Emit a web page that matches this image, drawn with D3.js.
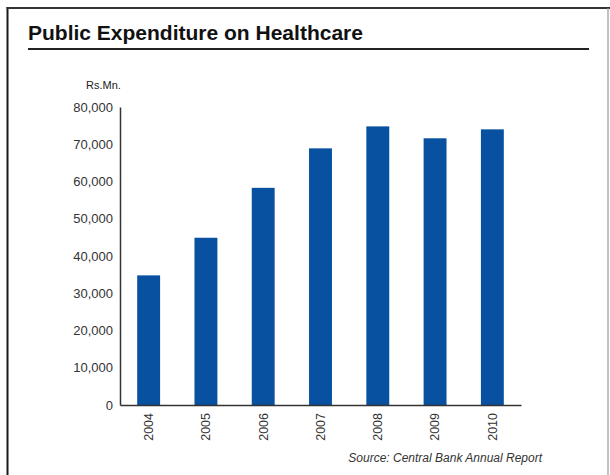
<!DOCTYPE html>
<html>
<head>
<meta charset="utf-8">
<script src="https://cdn.jsdelivr.net/npm/d3@7"></script>
<style>
  html, body { margin: 0; padding: 0; background: #fff; }
  svg { display: block; font-family: "Liberation Sans", Arial, sans-serif; }
</style>
</head>
<body>
<svg id="chart" width="610" height="475"></svg>
<script>
// Public expenditure on healthcare, Rs. Mn.
const years = ["2004", "2005", "2006", "2007", "2008", "2009", "2010"];
const expenditure = [34800, 44900, 58300, 68900, 74800, 71600, 74000];
const yTicks = [0, 10000, 20000, 30000, 40000, 50000, 60000, 70000, 80000];

const svg = d3.select("#chart");

// Frame
svg.append("line").attr("x1", 7.5).attr("x2", 7.5).attr("y1", 7).attr("y2", 475)
  .attr("stroke", "#1a1a1a").attr("stroke-width", 2);
svg.append("line").attr("x1", 6.5).attr("x2", 610).attr("y1", 8).attr("y2", 8)
  .attr("stroke", "#333").attr("stroke-width", 2);
svg.append("line").attr("x1", 608).attr("x2", 608).attr("y1", 8).attr("y2", 475)
  .attr("stroke", "#999").attr("stroke-width", 1.2);

// Title and rule
svg.append("text").attr("x", 28).attr("y", 40)
  .attr("font-size", 21).attr("font-weight", "bold").attr("fill", "#111")
  .text("Public Expenditure on Healthcare");
svg.append("line").attr("x1", 28).attr("x2", 589).attr("y1", 49).attr("y2", 49)
  .attr("stroke", "#222").attr("stroke-width", 2);

// Scales
const x = d3.scaleBand().domain(years).range([120, 521])
  .paddingInner(0.6).paddingOuter(0.3);
const y = d3.scaleLinear().domain([0, 80000]).range([405, 107]);

// Bars
svg.append("g").selectAll("rect").data(years).join("rect")
  .attr("x", d => x(d))
  .attr("width", x.bandwidth())
  .attr("y", (d, i) => y(expenditure[i]))
  .attr("height", (d, i) => y(0) - y(expenditure[i]))
  .attr("fill", "#0851a0");

// Y axis
const yAxis = svg.append("g").attr("transform", "translate(120,0)")
  .call(d3.axisLeft(y).tickValues(yTicks).tickSize(0).tickPadding(7)
    .tickFormat(d3.format(",")));
yAxis.select(".domain").attr("stroke", "#333").attr("stroke-width", 1.5);
yAxis.selectAll("text").attr("font-size", 13).attr("fill", "#333")
  .attr("font-family", "'Liberation Sans', Arial, sans-serif");

// X axis
const xAxis = svg.append("g").attr("transform", "translate(0,405)")
  .call(d3.axisBottom(x).tickSize(0).tickPadding(0));
xAxis.select(".domain").attr("stroke", "#333").attr("stroke-width", 1.5);
xAxis.selectAll("text")
  .attr("font-size", 12.5).attr("fill", "#333")
  .attr("font-family", "'Liberation Sans', Arial, sans-serif")
  .attr("transform", "rotate(-90)")
  .attr("text-anchor", "end")
  .attr("x", -8).attr("y", 0).attr("dy", "0.35em");

// Unit label
svg.append("text").attr("x", 86).attr("y", 89)
  .attr("font-size", 11).attr("fill", "#222").text("Rs.Mn.");

// Source note
svg.append("text").attr("x", 542).attr("y", 462)
  .attr("text-anchor", "end").attr("font-size", 12).attr("font-style", "italic")
  .attr("fill", "#333").text("Source: Central Bank Annual Report");
</script>
</body>
</html>
